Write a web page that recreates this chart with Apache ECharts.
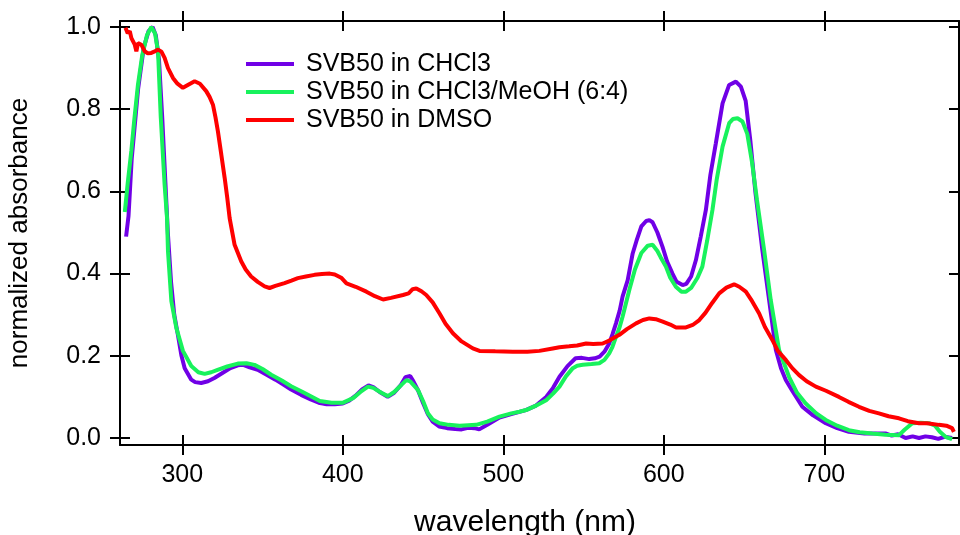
<!DOCTYPE html>
<html>
<head>
<meta charset="utf-8">
<script src="https://cdn.jsdelivr.net/npm/echarts@6/dist/echarts.min.js"></script>
<style>
html,body{margin:0;padding:0;background:#fff;}
#chart{width:960px;height:535px;}
</style>
</head>
<body>
<div id="chart"></div>
<script>
const seriesNames = ['SVB50 in CHCl3', 'SVB50 in CHCl3/MeOH (6:4)', 'SVB50 in DMSO'];
const xTicks = [300, 400, 500, 600, 700];
const yTicks = [0, 0.2, 0.4, 0.6, 0.8, 1.0];

const chcl3Wl = [265,266.5,268.5,272.5,276,279,281.5,283.5,285.5,287.5,289.5,291,293,295,297.3,299.5,301.5,305.6,308,311.8,316,320,325,330,334.6,338,342,347,352,358,363,367.8,374,380,385,390,395,400,404,408,412,416,419,423,428,432,436,439,442,444,447,450,453,456,460,465,470,474,478,482,485,490,497.6,505,514,520,526.7,531,535,540,545,549,553.6,557,560,563,566,568,570.2,572.5,574.3,577.5,580.6,583,586,589,591,593,596,599.2,602,605.4,608,611.7,614,617,620,623,626.2,629,632.4,636.6,640.7,644.9,648,651,654,657,661.4,665.6,669.8,673,676,680,686.3,693,700.9,708,715.3,725,738.1,742,746,750.6,755,759,763,767,771,775,779.6];
const chcl3Abs = [0.49,0.54,0.68,0.85,0.95,0.99,1.0,0.98,0.92,0.78,0.62,0.50,0.38,0.30,0.25,0.20,0.17,0.142,0.136,0.134,0.138,0.146,0.158,0.170,0.177,0.178,0.172,0.166,0.155,0.142,0.130,0.118,0.105,0.094,0.086,0.082,0.082,0.084,0.091,0.103,0.118,0.128,0.124,0.112,0.100,0.110,0.128,0.148,0.151,0.138,0.115,0.085,0.058,0.040,0.028,0.024,0.022,0.021,0.025,0.024,0.021,0.032,0.050,0.058,0.068,0.078,0.100,0.122,0.149,0.175,0.194,0.195,0.192,0.194,0.198,0.210,0.230,0.252,0.279,0.310,0.344,0.384,0.449,0.480,0.515,0.528,0.530,0.525,0.500,0.465,0.430,0.400,0.380,0.372,0.375,0.393,0.433,0.490,0.555,0.640,0.717,0.814,0.859,0.867,0.855,0.820,0.720,0.600,0.457,0.336,0.214,0.170,0.141,0.115,0.076,0.055,0.036,0.024,0.015,0.011,0.011,0.006,0.009,0.000,0.004,0.000,0.004,0.002,-0.002,0.003,0.000];

const mixWl = [264.2,266,268.3,270,272.4,275,278,280.7,283,284.9,286.6,289,290.5,291.1,293.2,296.3,300.4,305.6,310,313.9,318,322,328,334.6,340,345,350,355.4,362,367.8,375,385.7,393,400.2,406.4,411,415.7,419,424,428.1,432,435.4,439.6,442,446.8,450,453,456,460.3,466,472.8,478,483.1,490,497.6,505,510,514.2,520,526.7,531,535,539,543.3,546,549.5,555,559.8,563,566,568,570.2,572.5,574.3,578.5,582,586,590,593,596,598,601.3,604,607.5,611,613.8,617,621,624,627,630.3,633,636.6,640.7,643,645.9,649,652,655,658,662.5,666.6,671.8,678,683,688.4,695,700.9,708,715.3,722,729.9,738,746.5,750,754.8,760,765.1,769,772,775.5,779.6];
const mixAbs = [0.55,0.62,0.70,0.77,0.86,0.93,0.98,1.0,0.985,0.94,0.78,0.616,0.535,0.454,0.333,0.268,0.212,0.175,0.160,0.156,0.160,0.166,0.174,0.181,0.182,0.178,0.168,0.154,0.140,0.126,0.112,0.090,0.086,0.086,0.097,0.112,0.125,0.122,0.110,0.102,0.112,0.125,0.141,0.138,0.117,0.090,0.060,0.045,0.036,0.032,0.030,0.031,0.032,0.040,0.052,0.060,0.064,0.068,0.078,0.092,0.108,0.125,0.150,0.170,0.176,0.178,0.180,0.182,0.190,0.206,0.222,0.246,0.270,0.295,0.360,0.410,0.450,0.468,0.470,0.455,0.440,0.417,0.390,0.368,0.356,0.356,0.365,0.390,0.417,0.480,0.555,0.630,0.709,0.766,0.776,0.778,0.770,0.740,0.670,0.580,0.457,0.336,0.214,0.149,0.110,0.084,0.060,0.044,0.030,0.019,0.014,0.011,0.008,0.007,0.020,0.036,0.037,0.036,0.030,0.015,0.003,-0.003];

const dmsoWl = [264.6,266,267.3,268.3,270.4,271.4,272.4,274.5,276.6,278.5,280.7,282.5,284.9,287,289,291.1,294.2,297,300.4,304,307.7,311,314.9,317,319.1,320.7,322.2,324.3,326.4,328,329.5,332.6,336.7,339.5,342.9,347,351.3,354.4,358,363.7,368,372,377,382.4,387,391.9,395,399,402.3,408,414.7,420,425.1,430,437.5,441,443.5,445.8,449,452,456,460.3,464,468.6,474,481,485.2,495,505.9,515,522.5,530.8,535,541,546,551.6,556,561.9,566,572.3,577,582.7,587,591,595,599.3,604,607.6,613.8,618,622.1,626,630,634.5,639,643.8,647,651.1,655,659.4,663,667.7,671,676,680,684.3,689,694.7,701,709.1,715,721.6,728,734,740,746.5,752,759,764,771.4,776,779.6,780.7];
const dmsoAbs = [0.998,0.985,0.990,0.973,0.957,0.941,0.961,0.957,0.941,0.936,0.937,0.940,0.945,0.940,0.925,0.900,0.876,0.862,0.852,0.860,0.868,0.862,0.844,0.830,0.811,0.780,0.746,0.690,0.633,0.585,0.535,0.470,0.430,0.410,0.393,0.380,0.369,0.365,0.370,0.377,0.383,0.389,0.393,0.397,0.399,0.400,0.398,0.390,0.376,0.368,0.356,0.345,0.337,0.341,0.348,0.352,0.362,0.364,0.357,0.348,0.330,0.303,0.278,0.255,0.235,0.218,0.212,0.211,0.210,0.210,0.212,0.218,0.221,0.223,0.225,0.230,0.229,0.230,0.237,0.251,0.265,0.279,0.287,0.291,0.289,0.283,0.276,0.269,0.269,0.275,0.287,0.305,0.328,0.352,0.366,0.374,0.368,0.356,0.333,0.303,0.270,0.238,0.212,0.190,0.170,0.153,0.138,0.125,0.115,0.100,0.088,0.076,0.066,0.060,0.053,0.048,0.041,0.036,0.036,0.032,0.030,0.024,0.015];

const colors = ['#7000e6', '#18f25c', '#ff0000'];

function pairs(xs, ys) { return xs.map((x, i) => [x, ys[i]]); }

const X_MIN = 261.2, X_MAX = 783.9, Y_MIN = -0.017, Y_MAX = 1.0146;
const FONT = 'Liberation Sans, Arial, Helvetica, sans-serif';
const black = '#000';

function xAxisDef(pos, inside, showLine, showLabel, extra) {
  return Object.assign({
    type: 'value', position: pos, min: X_MIN, max: X_MAX,
    axisLine: { show: showLine, onZero: false, lineStyle: { color: black, width: 2 } },
    axisTick: { show: true, inside: inside, length: 10, lineStyle: { color: black, width: 2 }, customValues: xTicks },
    axisLabel: { show: showLabel, customValues: xTicks, color: black, fontSize: 25, fontFamily: FONT, margin: 18 },
    splitLine: { show: false }
  }, extra || {});
}
function yAxisDef(pos, inside, showLine, showLabel, extra) {
  return Object.assign({
    type: 'value', position: pos, min: Y_MIN, max: Y_MAX,
    axisLine: { show: showLine, onZero: false, lineStyle: { color: black, width: 2 } },
    axisTick: { show: true, inside: inside, length: 10, lineStyle: { color: black, width: 2 }, customValues: yTicks },
    axisLabel: { show: showLabel, customValues: yTicks, color: black, fontSize: 25, fontFamily: FONT, margin: 19,
      formatter: v => v.toFixed(1) },
    splitLine: { show: false }
  }, extra || {});
}

const chart = echarts.init(document.getElementById('chart'), null, { renderer: 'canvas' });
chart.setOption({
  animation: false,
  backgroundColor: '#fff',
  grid: { left: 120, right: 1, top: 21, bottom: 90, containLabel: false, outerBoundsMode: 'none' },
  legend: {
    orient: 'vertical', left: 246, top: 50, padding: 0, itemGap: 0,
    itemWidth: 48, itemHeight: 4, icon: 'rect',
    textStyle: { color: black, fontSize: 25, lineHeight: 28, fontFamily: FONT, padding: [0, 0, 0, 7] },
    data: seriesNames
  },
  xAxis: [
    xAxisDef('bottom', false, true, true, {
      name: 'wavelength (nm)', nameLocation: 'middle', nameGap: 63,
      nameTextStyle: { color: black, fontSize: 30, fontFamily: FONT, padding: [0, 29, 0, 0] }
    }),
    xAxisDef('bottom', true, false, false),
    xAxisDef('top', false, true, false),
    xAxisDef('top', true, false, false)
  ],
  yAxis: [
    yAxisDef('left', false, true, true, {
      name: 'normalized absorbance', nameLocation: 'middle', nameGap: 87, nameRotate: 90,
      nameTextStyle: { color: black, fontSize: 26, fontFamily: FONT }
    }),
    yAxisDef('left', true, false, false),
    yAxisDef('right', true, true, false)
  ],
  series: [
    { name: seriesNames[0], type: 'line', data: pairs(chcl3Wl, chcl3Abs), showSymbol: false, symbol: 'none',
      lineStyle: { color: colors[0], width: 4 }, itemStyle: { color: colors[0] }, z: 2, clip: true },
    { name: seriesNames[1], type: 'line', data: pairs(mixWl, mixAbs), showSymbol: false, symbol: 'none',
      lineStyle: { color: colors[1], width: 4 }, itemStyle: { color: colors[1] }, z: 3, clip: true },
    { name: seriesNames[2], type: 'line', data: pairs(dmsoWl, dmsoAbs), showSymbol: false, symbol: 'none',
      lineStyle: { color: colors[2], width: 4 }, itemStyle: { color: colors[2] }, z: 4, clip: true }
  ]
});
</script>
</body>
</html>
